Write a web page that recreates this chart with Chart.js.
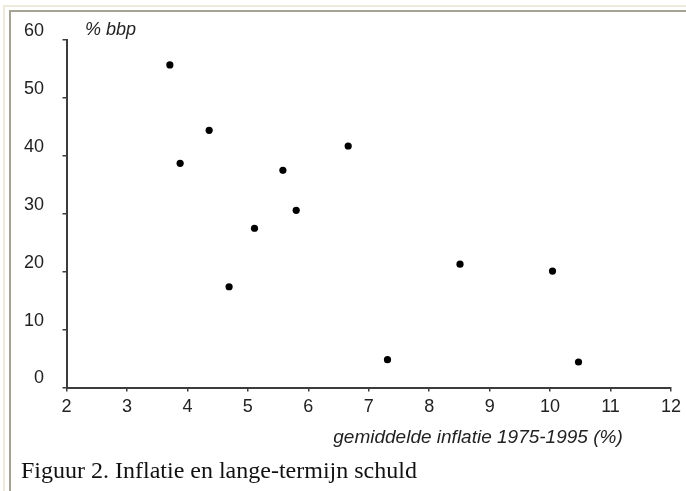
<!DOCTYPE html>
<html>
<head>
<meta charset="utf-8">
<script src="https://cdn.jsdelivr.net/npm/chart.js@4/dist/chart.umd.min.js"></script>
<style>
    html, body { margin: 0; padding: 0; background: #fff; overflow: hidden; }
    body { width: 686px; height: 491px; position: relative; }
    .frame-outer { position: absolute; left: 3px; top: 5px; width: 2000px; height: 2000px;
        border-top: 2px solid #eeeadb; border-left: 2px solid #eeeadb; }
    .frame-inner { position: absolute; left: 9px; top: 10px; width: 2000px; height: 2000px;
        border-top: 2px solid #a6a394; border-left: 2px solid #a6a394; }
    #wrap { position: absolute; left: 0; top: 0; width: 686px; height: 491px; }
    .caption { position: absolute; left: 21px; top: 456px; font: 24px/28px "Liberation Serif", "Times New Roman", serif;
        color: #111; white-space: nowrap; }
</style>
</head>
<body>
<div class="frame-outer"></div>
<div class="frame-inner"></div>
<div id="wrap"><canvas id="Chart" width="686" height="491"></canvas></div>
<div class="caption">Figuur 2. Inflatie en lange-termijn schuld</div>
<script>
(function () {
    // gemiddelde inflatie 1975-1995 (%) per land
    var inflation = [3.71, 4.36, 3.88, 5.58, 5.80, 5.11, 4.69, 6.66, 8.51, 7.31, 10.04, 10.47];
    // lange-termijn schuld, % bbp
    var debt = [55.7, 44.4, 38.7, 37.5, 30.6, 27.5, 17.4, 41.7, 21.3, 4.8, 20.1, 4.4];

    var xTicks = [2, 3, 4, 5, 6, 7, 8, 9, 10, 11, 12];
    var yTicks = [0, 10, 20, 30, 40, 50, 60];

    var xTitle = 'gemiddelde inflatie 1975-1995 (%)';
    var yTitle = '% bbp';

    var font = '"Liberation Sans", Arial, sans-serif';
    var axisColor = '#3c3c3c';

    var axisTexts = {
        id: 'axisTexts',
        afterDraw: function (chart) {
            var ctx = chart.ctx;
            var area = chart.chartArea;
            ctx.save();
            ctx.fillStyle = '#222';
            ctx.textBaseline = 'middle';
            ctx.font = 'italic 18px ' + font;
            ctx.textAlign = 'left';
            ctx.fillText(yTitle, area.left + 18.5, area.top - 10);
            ctx.font = 'italic 19px ' + font;
            ctx.textAlign = 'center';
            ctx.fillText(xTitle, area.left + 411.5, area.bottom + 50.5);
            ctx.restore();
        }
    };

    initChart();

    function initChart() {
        var points = inflation.map(function (x, i) {
            return { x: x, y: debt[i] };
        });

        var ctx = document.getElementById('Chart').getContext('2d');

        new Chart(ctx, {
            type: 'scatter',
            data: {
                datasets: [{
                    data: points,
                    backgroundColor: '#000',
                    borderWidth: 0,
                    pointRadius: 3.6,
                    pointHoverRadius: 3.6
                }]
            },
            options: options(),
            plugins: [axisTexts]
        });
    }

    function options() {
        return {
            responsive: false,
            animation: false,
            layout: {
                padding: { left: 0, right: 10, top: 40, bottom: 0 }
            },
            scales: {
                x: {
                    type: 'linear',
                    min: xTicks[0],
                    max: xTicks[xTicks.length - 1],
                    afterBuildTicks: function (scale) {
                        scale.ticks = xTicks.map(function (v) { return { value: v }; });
                    },
                    afterFit: function (scale) {
                        scale.height = 103.5;
                    },
                    grid: {
                        drawOnChartArea: false,
                        drawTicks: true,
                        tickLength: 4,
                        color: axisColor,
                        lineWidth: 1.5
                    },
                    border: { display: true, color: axisColor, width: 2 },
                    ticks: {
                        padding: 5,
                        maxRotation: 0,
                        autoSkip: false,
                        color: '#222',
                        font: { family: font, size: 18 }
                    }
                },
                y: {
                    type: 'linear',
                    min: yTicks[0],
                    max: yTicks[yTicks.length - 1],
                    afterBuildTicks: function (scale) {
                        scale.ticks = yTicks.map(function (v) { return { value: v }; });
                    },
                    afterFit: function (scale) {
                        scale.width = 66.5;
                    },
                    grid: {
                        drawOnChartArea: false,
                        drawTicks: true,
                        tickLength: 4,
                        color: axisColor,
                        lineWidth: 1.5
                    },
                    border: { display: true, color: axisColor, width: 2 },
                    ticks: {
                        padding: 18.5,
                        labelOffset: -9,
                        color: '#222',
                        font: { family: font, size: 18 }
                    }
                }
            },
            plugins: {
                legend: { display: false },
                tooltip: { enabled: false }
            }
        };
    }
})();
</script>
</body>
</html>
